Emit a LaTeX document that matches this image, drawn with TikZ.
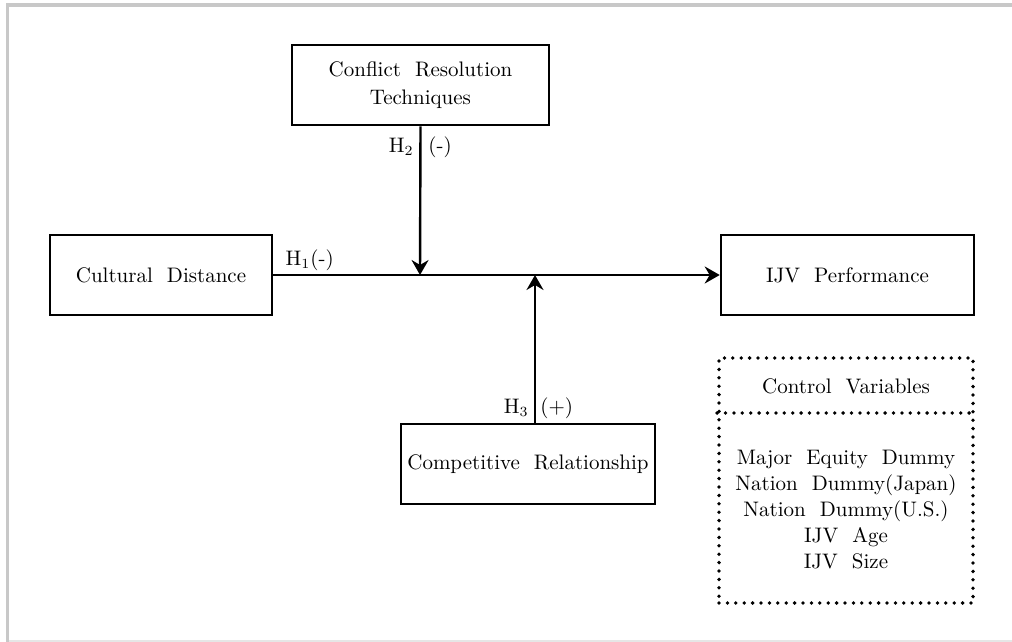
\documentclass[tikz,border=0pt]{standalone}
\usepackage{tikz}
\usetikzlibrary{arrows.meta,positioning,calc}
\definecolor{framegray}{HTML}{C8C8C8}
\definecolor{framelight}{HTML}{E6E6E6}

\begin{document}
\begin{tikzpicture}[
  x=0.5pt, y=-0.5pt,
  var/.style={draw, line width=1.3pt, inner sep=2pt, minimum height=40pt, align=center, font=\fontsize{10.5}{14}\selectfont},
  ctrl/.style={draw, line width=1.9pt, dash pattern=on 0pt off 4.2pt, line cap=round},
  arrow/.style={-{Stealth[length=7.5pt, width=8.5pt, inset=2.5pt]}, line width=1.2pt},
  hyp/.style={font=\fontsize{10.5}{13}\selectfont, inner sep=1pt},
  txt/.style={font=\fontsize{10.5}{13}\selectfont, align=center}
]
  \useasboundingbox (0,0) rectangle (1012,642);
  % page frame
  \fill[framegray] (6,3) rectangle (1012,7);
  \fill[framegray] (6,3) rectangle (9,642);
  \fill[framelight] (9,640) rectangle (1012,642);

  % Variable boxes
  \node[var, minimum width=111pt] (cult) at (161,275) {Cultural\ \ Distance};
  \node[var, minimum width=126.5pt] (perf) at (847.5,275) {IJV\ \ Performance};
  \node[var, minimum width=128.5pt] (conf) at (420.5,85) {Conflict\ \ Resolution\\Techniques};
  \node[var, minimum width=127pt] (comp) at (528,464) {Competitive\ \ Relationship};

  % Moderator meeting points
  \coordinate (m2) at (420,275);
  \coordinate (m3) at (535,275);

  % Arrows with hypothesis labels
  \draw[arrow] (cult) -- (perf);
  \node[hyp, anchor=south west] at ($(cult.east)+(10,-2)$) {H$_1$(-)};
  \draw[arrow] (conf.south) -- (m2);
  \node[hyp, anchor=east] at (416,147) {H$_2$};
  \node[hyp, anchor=west] at (426,147) {(-)};
  \draw[arrow] (comp.north -| m3) -- (m3);
  \node[hyp, anchor=east] at (531,408) {H$_3$};
  \node[hyp, anchor=west] at (538,408) {(+)};

  % Control variables
  \node[ctrl, minimum width=127pt, minimum height=122.5pt] (ctrl) at (846,480.5) {};
  \coordinate (div) at (846,413);
  \draw[ctrl] (ctrl.west |- div) -- (ctrl.east |- div);
  \node[txt] (ctitle) at (846,386) {Control\ \ Variables};
  \node[txt] (clist) at (846,510) {Major\ \ Equity\ \ Dummy\\Nation\ \ Dummy(Japan)\\Nation\ \ Dummy(U.S.)\\IJV\ \ Age\\IJV\ \ Size};
\end{tikzpicture}
\end{document}
